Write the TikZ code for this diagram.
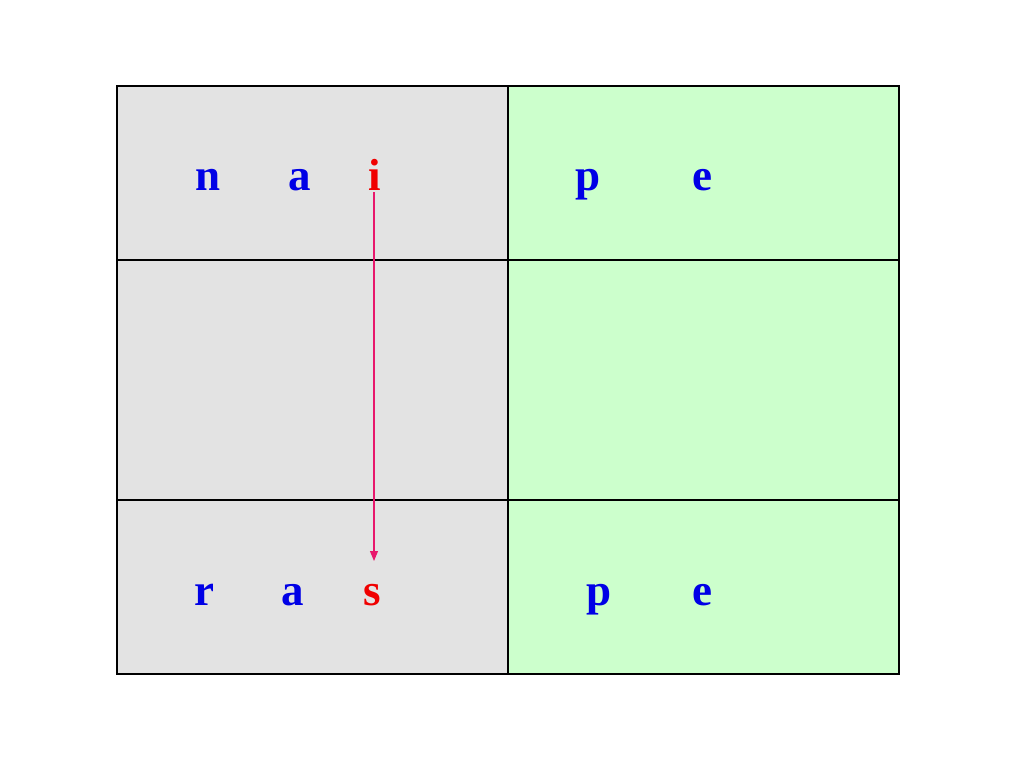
\documentclass[tikz,border=0pt]{standalone}
\usepackage{fontspec}
\setmainfont{Liberation Serif}
\usetikzlibrary{arrows.meta}
\definecolor{cellgray}{HTML}{E3E3E3}
\definecolor{cellgreen}{HTML}{CCFFCC}
\definecolor{letterblue}{HTML}{0000E6}
\definecolor{letterred}{HTML}{F00000}
\definecolor{arrowpink}{HTML}{E8186C}
\tikzset{
  grayc/.style={fill=cellgray, draw=black, line width=1.2pt},
  greenc/.style={fill=cellgreen, draw=black, line width=1.2pt},
  lt/.style={anchor=base, inner sep=0pt, font=\fontsize{45}{50}\selectfont\bfseries},
  bl/.style={lt, text=letterblue},
  rd/.style={lt, text=letterred},
  arr/.style={draw=arrowpink, line width=1.1pt, -{Triangle[length=10pt,width=8pt]}}
}
\begin{document}
\begin{tikzpicture}[x=1pt,y=-1pt]
\useasboundingbox[fill=white] (0,0) rectangle (1024,768);
\path[grayc] (117,86) rectangle (508,260);
\path[grayc] (117,260) rectangle (508,500);
\path[grayc] (117,500) rectangle (508,674);
\path[greenc] (508,86) rectangle (899,260);
\path[greenc] (508,260) rectangle (899,500);
\path[greenc] (508,500) rectangle (899,674);
\node[bl] (n1) at (208,190) {n};
\node[bl] (a1) at (300,190) {a};
\node[rd] (i1) at (375,190) {i};
\node[bl] (p1) at (588,190) {p};
\node[bl] (e1) at (702,190) {e};
\node[bl] (r2) at (204,605) {r};
\node[bl] (a2) at (293,605) {a};
\node[rd] (s2) at (372,605) {s};
\node[bl] (p2) at (599,605) {p};
\node[bl] (e2) at (702,605) {e};
\coordinate (tip) at (374,561);
\draw[arr] (i1.south -| tip) ++(0,2) -- (tip);
\end{tikzpicture}
\end{document}
